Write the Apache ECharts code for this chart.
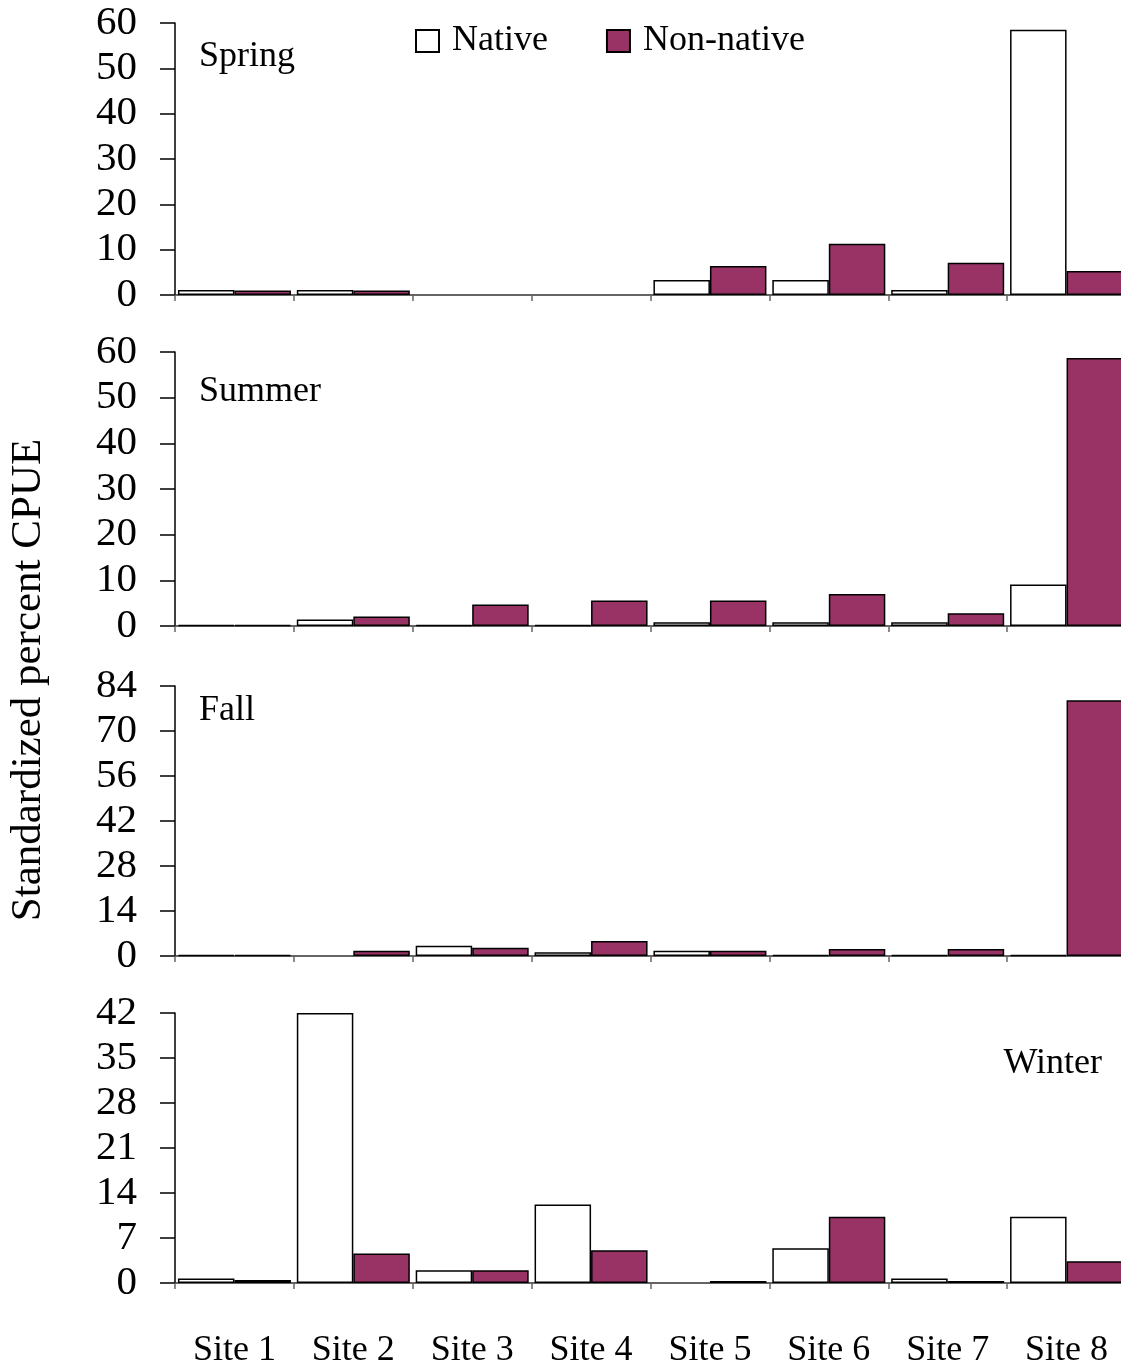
<!DOCTYPE html>
<html>
<head>
<meta charset="utf-8">
<script src="https://cdn.jsdelivr.net/npm/echarts@6/dist/echarts.min.js"></script>
<style>html,body{margin:0;padding:0;background:#fff;overflow:hidden;}#c{width:1130px;height:1369px;}</style>
</head>
<body>
<div id="c"></div>
<script>
const sites = ['Site 1','Site 2','Site 3','Site 4','Site 5','Site 6','Site 7','Site 8'];
const seasons = ['Spring','Summer','Fall','Winter'];
const springNative    = [1.1, 1.1, 0, 0, 3.3, 3.3, 1.1, 58.5];
const springNonNative = [1.0, 1.0, 0, 0, 6.4, 11.3, 7.1, 5.3];
const summerNative    = [0.2, 1.4, 0.2, 0.2, 0.8, 0.8, 0.8, 9.1];
const summerNonNative = [0.2, 2.1, 4.7, 5.6, 5.6, 7.0, 2.8, 58.7];
const fallNative      = [0.3, 0, 3.2, 1.2, 1.6, 0.3, 0.3, 0.3];
const fallNonNative   = [0.3, 1.6, 2.6, 4.7, 1.6, 2.2, 2.2, 79.6];
const winterNative    = [0.7, 42, 2.0, 12.2, 0, 5.4, 0.7, 10.3];
const winterNonNative = [0.45, 4.6, 2.0, 5.1, 0.3, 10.3, 0.3, 3.4];
const yMax = [60, 60, 84, 42];
const yInterval = [10, 10, 14, 7];

const nativeSets = [springNative, summerNative, fallNative, winterNative];
const nonNativeSets = [springNonNative, summerNonNative, fallNonNative, winterNonNative];

const FONT = '"Liberation Serif", "Times New Roman", serif';
const PURPLE = '#993366';
const gridTops = [23, 352, 686, 1013];
const gridHeights = [272, 274, 270, 272];

// zero values are drawn as no bar at all (as in the reference)
const noZero = arr => arr.map(v => (v === 0 ? null : v));

const grids = [], xAxes = [], yAxes = [], series = [];
for (let i = 0; i < 4; i++) {
  grids.push({left: 175, width: 951, top: gridTops[i], height: gridHeights[i], containLabel: false});
  xAxes.push({
    type: 'category', data: sites, gridIndex: i,
    axisLine: {lineStyle: {color: '#333', width: 1.5}},
    axisTick: {show: true, length: 6, lineStyle: {color: '#666', width: 1.5}},
    axisLabel: {show: i === 3, fontFamily: FONT, fontSize: 36, color: '#000', margin: 50},
    splitLine: {show: false}
  });
  yAxes.push({
    type: 'value', gridIndex: i, min: 0, max: yMax[i], interval: yInterval[i],
    axisLine: {show: true, lineStyle: {color: '#000', width: 1.5}},
    axisTick: {show: true, length: 15, lineStyle: {color: '#000', width: 1.5}},
    axisLabel: {fontFamily: FONT, fontSize: 41, color: '#000', margin: 38},
    splitLine: {show: false}
  });
  series.push({
    name: 'Native', type: 'bar', xAxisIndex: i, yAxisIndex: i,
    data: noZero(nativeSets[i]), barWidth: 56.5, barGap: '0%',
    itemStyle: {color: '#fff', borderColor: '#000', borderWidth: 1.5},
    emphasis: {disabled: true}, animation: false
  });
  series.push({
    name: 'Non-native', type: 'bar', xAxisIndex: i, yAxisIndex: i,
    data: noZero(nonNativeSets[i]), barWidth: 56.5, barGap: '0%',
    itemStyle: {color: PURPLE, borderColor: '#000', borderWidth: 1.5},
    emphasis: {disabled: true}, animation: false
  });
}

const labelPos = [
  {x: 199, y: 57, align: 'left'},
  {x: 199, y: 392, align: 'left'},
  {x: 199, y: 711, align: 'left'},
  {x: 1102, y: 1064, align: 'right'}
];
const graphics = seasons.map((s, i) => ({
  type: 'text', x: labelPos[i].x, y: labelPos[i].y,
  style: {text: s, font: '36px ' + FONT, fill: '#000', textAlign: labelPos[i].align, textVerticalAlign: 'middle'}
}));
graphics.push({
  type: 'text', x: 29, y: 680, rotation: Math.PI / 2,
  style: {text: 'Standardized percent CPUE', font: '43px ' + FONT, fill: '#000', textAlign: 'center', textVerticalAlign: 'middle'}
});

const chart = echarts.init(document.getElementById('c'), null, {renderer: 'canvas'});
chart.setOption({
  animation: false,
  backgroundColor: '#fff',
  legend: {
    left: 415, top: 23, padding: 0, itemWidth: 23, itemHeight: 22, itemGap: 58,
    icon: 'rect',
    data: ['Native', 'Non-native'],
    textStyle: {fontFamily: FONT, fontSize: 36, color: '#000', padding: [0, 0, 0, 8]}
  },
  grid: grids, xAxis: xAxes, yAxis: yAxes, series: series,
  graphic: graphics
});
</script>
</body>
</html>
